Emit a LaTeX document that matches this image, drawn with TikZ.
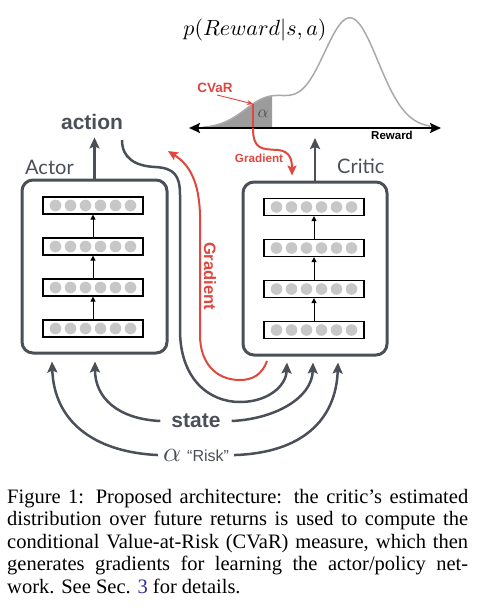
\documentclass[tikz,border=0pt]{standalone}
\usepackage{fontspec}
\setmainfont{Liberation Serif}
\setsansfont{Liberation Sans}
\newfontfamily\latofont{Lato}
\usetikzlibrary{arrows.meta,calc}
\definecolor{dg}{HTML}{4B5058}
\definecolor{rd}{HTML}{E0473F}
\definecolor{curvegray}{HTML}{AAAAAA}
\definecolor{fillg}{HTML}{9C9C9C}
\definecolor{linkblue}{HTML}{2E2E9E}
\tikzset{
  declare function={dens(\x)=30*exp(-((\x-270)/35.36)^2)+110*exp(-((\x-350)/39.6)^2);},
  netbox/.style={draw=dg, line width=3pt, rounded corners=11pt, inner sep=0pt, fill=white},
  layerbox/.style={draw=black, line width=1.2pt, fill=white, minimum width=100pt, minimum height=17pt, inner sep=0pt},
  unitdot/.style={fill=black!22},
  uparrow/.style={draw=black, line width=1pt, -{Triangle[length=5pt,width=5pt]}},
  bigarrow/.style={draw=dg, line width=2.5pt, -{Stealth[length=11pt,width=10pt,inset=2pt]}},
  redarrow/.style={draw=rd, line width=2pt, -{Stealth[length=10pt,width=9pt,inset=2pt]}},
  boldlbl/.style={font=\sffamily\bfseries\fontsize{21}{24}\selectfont, text=dg},
  netlbl/.style={font=\latofont\fontsize{20}{24}\selectfont, text=dg, inner sep=0pt},
  caption/.style={font=\rmfamily\fontsize{20.5}{22.5}\selectfont, inner sep=0pt, anchor=base west},
}
\newcommand\drawnet[3]{%
  \foreach \i in {1,...,4}{%
    \node[layerbox] (#1\i) at (#2,{#3+(\i-1)*41}) {};
    \foreach \dx in {-37.5,-22.5,-7.5,7.5,22.5,37.5}
      \fill[unitdot] ($(#1\i)+(\dx,0)$) circle (5.8pt);
  }
  \foreach \i/\j in {2/1,3/2,4/3}
    \draw[uparrow] (#1\i.north) -- (#1\j.south);
}
\begin{document}
\begin{tikzpicture}[x=1pt,y=-1pt]
\useasboundingbox (0,0) rectangle (481,608);
\fill[white] (0,0) rectangle (481,608);

% ---- distribution ----
\fill[fillg] (203,128) -- plot[domain=203:272,samples=50] (\x,{128-dens(\x)}) -- (272,128) -- cycle;
\draw[curvegray, line width=1.5pt] plot[domain=203:430,samples=150] (\x,{128-dens(\x)});
\coordinate (cvtop) at (253,{128-dens(253)});
\coordinate (cvbot) at (253,128);
\draw[rd, line width=2pt] (cvtop) -- (cvbot);
\coordinate (axl) at (189,128);
\coordinate (axr) at (441,128);
\draw[black, line width=2pt, {Stealth[length=11pt,width=10pt,inset=2pt]}-{Stealth[length=11pt,width=10pt,inset=2pt]}] (axl) -- (axr);
\node (pdist) at (255,30) {\scalebox{2.2}{$p(Reward|s,a)$}};
\node[font=\sffamily\bfseries\fontsize{11.5}{13}\selectfont, anchor=base] (rewardlbl) at (392,139) {Reward};
\node[text=dg] (alphad) at (263,114) {\scalebox{1.7}{$\alpha$}};
\node[font=\sffamily\bfseries\fontsize{13.5}{16}\selectfont, text=rd, inner sep=1pt] (cvar) at (215,88) {CVaR};
\draw[rd, line width=0.9pt, -{Stealth[length=6pt,width=5pt]}] ($(cvar.south)+(2,1)$) -- (cvtop);

% ---- networks ----
\node[netbox, minimum width=145pt, minimum height=173pt] (actor) at (94.5,266.5) {};
\node[netbox, minimum width=144pt, minimum height=173pt] (critic) at (315,268.5) {};
\drawnet{A}{93}{205.5}
\drawnet{C}{314}{207}
\node[netlbl, anchor=base west] (actorlbl) at (25,174) {Actor};
\node[netlbl, anchor=base west] (criticlbl) at (337,173) {Critic};

% ---- action ----
\node[boldlbl, anchor=base, inner sep=0pt] (action) at (92,129) {action};
\draw[bigarrow, shorten >=8pt] (actor.north) -- (actor.north |- action.south);
\coordinate (ctop) at (315,138);
\draw[bigarrow] (critic.north) -- (ctop);

% input points
\coordinate (ain1) at ($(actor.south)+(-42.5,7)$);
\coordinate (ain2) at ($(actor.south)+(0.5,7)$);
\coordinate (cin1) at ($(critic.south)+(-28,6)$);
\coordinate (cin2) at ($(critic.south)+(-2,6)$);
\coordinate (cin3) at ($(critic.south)+(23,6)$);

% action curve to critic
\coordinate (acstart) at (122,140);
\draw[bigarrow] (acstart) .. controls (122,158) and (135,166) .. (155,167)
  .. controls (174,168) and (180,175) .. (180,195) -- (180,330)
  .. controls (180,378) and (208,402) .. (240,402)
  .. controls (268,402) and (286,386) .. (cin1);

% red gradient from critic to actor
\coordinate (rgstart) at (267,361);
\coordinate (rgtip) at (168,151);
\draw[redarrow] (rgstart) .. controls (262,375) and (252,380) .. (240,380)
  .. controls (215,380) and (200,362) .. (200,335) -- (200,215)
  .. controls (199,182) and (190,165) .. (rgtip);
\node[font=\sffamily\bfseries\fontsize{16.5}{19}\selectfont, text=rd, rotate=-90] (gradv) at (210,276) {Gradient};

% gradient from CVaR to critic
\coordinate (cgtop) at ($(critic.north)+(-23,-5)$);
\draw[redarrow] (cvbot) .. controls (253,150) and (262,149) .. (278,150)
  .. controls (290,151) and (292,160) .. (cgtop);
\node[font=\sffamily\bfseries\fontsize{11.7}{14}\selectfont, text=rd] (gradt) at (259,158) {Gradient};

% ---- state and risk ----
\node[boldlbl, inner xsep=11pt, inner ysep=0pt] (state) at (196,421) {state};
\draw[bigarrow] (state.west) .. controls (118,419) and (95,398) .. (ain2);
\draw[bigarrow] (state.east) .. controls (275,419) and (312,398) .. (cin2);
\node[text=dg, inner xsep=5pt, inner ysep=0pt, anchor=base west] (alpha) at (158,461)
  {\scalebox{2.8}{$\alpha$}\hspace{6pt}\sffamily\fontsize{16}{19}\selectfont “Risk”};
\draw[bigarrow] (alpha.west) .. controls (92,452) and (54,420) .. (ain1);
\draw[bigarrow] (alpha.east) .. controls (302,453) and (336,420) .. (cin3);

% ---- caption ----
\node[caption] (cap1) at (7,503) {\makebox[461pt][s]{Figure 1: Proposed architecture: the critic’s estimated}};
\node[caption] (cap2) at (7,525.5) {\makebox[461pt][s]{distribution over future returns is used to compute the}};
\node[caption] (cap3) at (7,548) {\makebox[461pt][s]{conditional Value-at-Risk (CVaR) measure, which then}};
\node[caption] (cap4) at (7,570.5) {\makebox[461pt][s]{generates gradients for learning the actor/policy net-}};
\node[caption] (cap5) at (7,593) {work. See Sec. \textcolor{linkblue}{3} for details.};
\end{tikzpicture}
\end{document}
